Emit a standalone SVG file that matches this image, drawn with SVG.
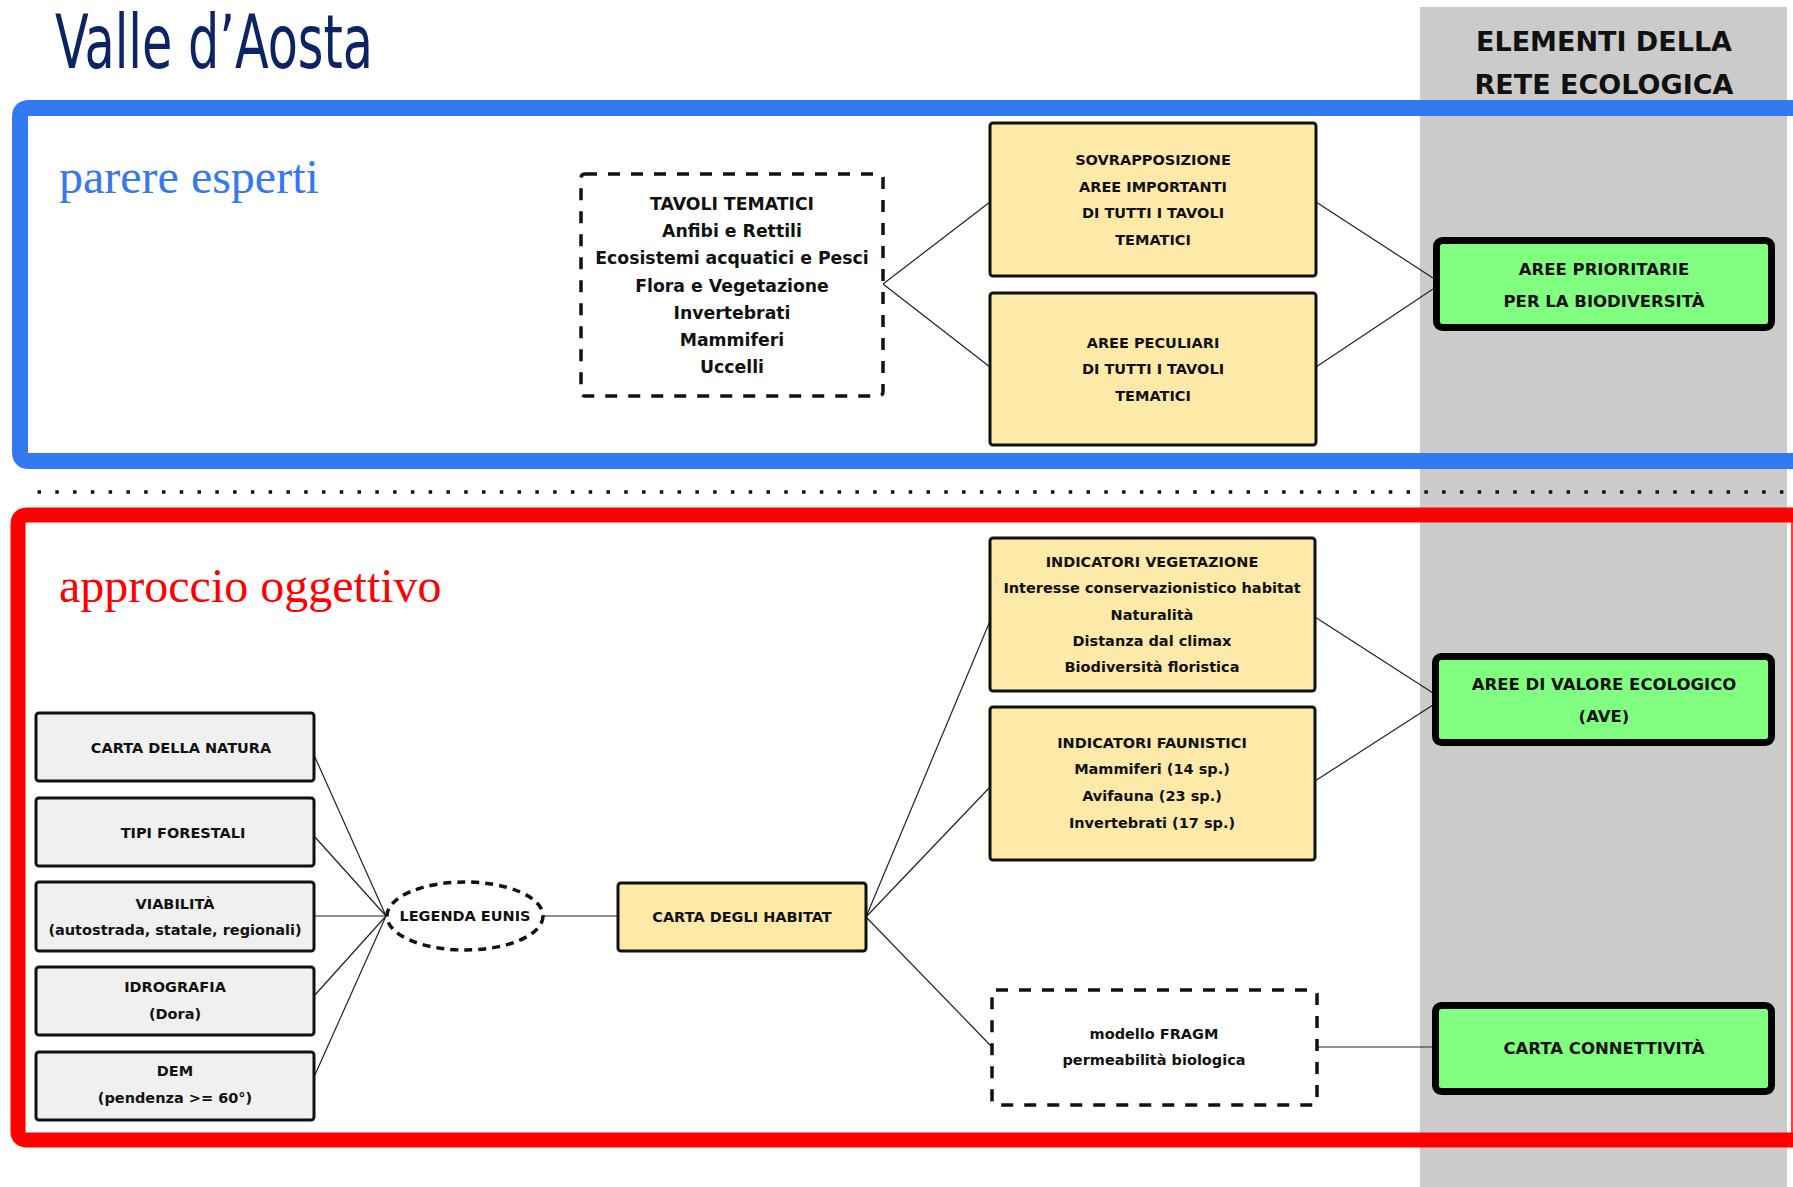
<svg xmlns="http://www.w3.org/2000/svg" width="1793" height="1187" viewBox="0 0 1793 1187">
<style>
.t{font-family:"DejaVu Sans",Verdana,sans-serif;font-weight:bold;font-size:14.5px;text-anchor:middle;dominant-baseline:central;fill:#111}
.big{font-size:17.3px}
.gt{font-size:16.5px}
.yel{fill:#fde9a8;stroke:#111;stroke-width:3}
.gry{fill:#f0f0f0;stroke:#111;stroke-width:3}
.grn{fill:#80ff80;stroke:#000;stroke-width:7}
.dash{fill:#fff;stroke:#111;stroke-width:3.5;stroke-dasharray:12 11}
.edash{fill:#fff;stroke:#111;stroke-width:3.5;stroke-dasharray:8 6}
#connectors line{stroke:#222;stroke-width:1.2}
.serif{font-family:"Liberation Serif","Times New Roman",serif;font-size:48px}
</style>
<rect x="0" y="0" width="1793" height="1187" fill="#fff"/>
<rect x="1420" y="7" width="367" height="1180" fill="#cbcbcb"/>

<g id="header">
<text x="55" y="68" font-family="'Liberation Sans Narrow','DejaVu Sans Condensed','Liberation Sans',sans-serif" font-size="74" fill="#0c2463" textLength="318" lengthAdjust="spacingAndGlyphs">Valle d’Aosta</text>
<text x="1604" y="51" font-family="'DejaVu Sans',sans-serif" font-weight="bold" font-size="27" text-anchor="middle" fill="#111">ELEMENTI DELLA</text>
<text x="1604" y="94" font-family="'DejaVu Sans',sans-serif" font-weight="bold" font-size="27" text-anchor="middle" fill="#111">RETE ECOLOGICA</text>
</g>

<g id="frames">
<path d="M1793,108 H29 Q20,108 20,117 V452 Q20,461 29,461 H1793" fill="none" stroke="#337af0" stroke-width="16"/>
<line x1="37.5" y1="492" x2="1793" y2="492" stroke="#111" stroke-width="3.5" stroke-dasharray="3.5 14.28"/>
<path d="M1793,515 H27 Q18,515 18,524 V1131 Q18,1140 27,1140 H1793" fill="none" stroke="#ff0000" stroke-width="15"/>
<line x1="1792" y1="508" x2="1792" y2="1147" stroke="#ff0000" stroke-width="1.5"/>
<text class="serif" x="59" y="193" fill="#3479f0">parere esperti</text>
<text class="serif" x="59" y="602" fill="#ff0000">approccio oggettivo</text>
</g>

<g id="connectors">
<line x1="883" y1="284" x2="990" y2="202"/>
<line x1="883" y1="284" x2="990" y2="367"/>
<line x1="1316" y1="202" x2="1433" y2="278"/>
<line x1="1316" y1="367" x2="1433" y2="289"/>
<line x1="314" y1="755" x2="386" y2="916"/>
<line x1="314" y1="836" x2="386" y2="916"/>
<line x1="314" y1="916" x2="386" y2="916"/>
<line x1="314" y1="996" x2="386" y2="916"/>
<line x1="314" y1="1077" x2="386" y2="916"/>
<line x1="543" y1="916" x2="618" y2="916"/>
<line x1="866" y1="917" x2="990" y2="621"/>
<line x1="866" y1="917" x2="990" y2="787"/>
<line x1="866" y1="917" x2="992" y2="1047"/>
<line x1="1315" y1="617" x2="1433" y2="693"/>
<line x1="1315" y1="781" x2="1433" y2="705"/>
<line x1="1317" y1="1047" x2="1432" y2="1047"/>
</g>

<g id="tavoli">
<rect class="dash" x="581" y="174" width="302" height="222" rx="4"/>
<text class="t big" x="732" y="204">TAVOLI TEMATICI</text>
<text class="t big" x="732" y="231">Anfibi e Rettili</text>
<text class="t big" x="732" y="258">Ecosistemi acquatici e Pesci</text>
<text class="t big" x="732" y="286">Flora e Vegetazione</text>
<text class="t big" x="732" y="313">Invertebrati</text>
<text class="t big" x="732" y="340">Mammiferi</text>
<text class="t big" x="732" y="367">Uccelli</text>
</g>

<g id="sovrapposizione">
<rect class="yel" x="990" y="123" width="326" height="153" rx="3"/>
<text class="t" x="1153" y="160">SOVRAPPOSIZIONE</text>
<text class="t" x="1153" y="187">AREE IMPORTANTI</text>
<text class="t" x="1153" y="213">DI TUTTI I TAVOLI</text>
<text class="t" x="1153" y="240">TEMATICI</text>
</g>

<g id="aree-peculiari">
<rect class="yel" x="990" y="293" width="326" height="152" rx="3"/>
<text class="t" x="1153" y="343">AREE PECULIARI</text>
<text class="t" x="1153" y="369">DI TUTTI I TAVOLI</text>
<text class="t" x="1153" y="396">TEMATICI</text>
</g>

<g id="aree-prioritarie">
<rect class="grn" x="1436.5" y="240.5" width="335" height="87" rx="6"/>
<text class="t gt" x="1604" y="269">AREE PRIORITARIE</text>
<text class="t gt" x="1604" y="301">PER LA BIODIVERSITÀ</text>
</g>

<g id="indicatori-vegetazione">
<rect class="yel" x="990" y="538" width="325" height="153" rx="3"/>
<text class="t" x="1152" y="562">INDICATORI VEGETAZIONE</text>
<text class="t" x="1152" y="588">Interesse conservazionistico habitat</text>
<text class="t" x="1152" y="615">Naturalità</text>
<text class="t" x="1152" y="641">Distanza dal climax</text>
<text class="t" x="1152" y="667">Biodiversità floristica</text>
</g>

<g id="indicatori-faunistici">
<rect class="yel" x="990" y="707" width="325" height="153" rx="3"/>
<text class="t" x="1152" y="743">INDICATORI FAUNISTICI</text>
<text class="t" x="1152" y="769">Mammiferi (14 sp.)</text>
<text class="t" x="1152" y="796">Avifauna (23 sp.)</text>
<text class="t" x="1152" y="823">Invertebrati (17 sp.)</text>
</g>

<g id="ave">
<rect class="grn" x="1435.5" y="656.5" width="336" height="86" rx="6"/>
<text class="t gt" x="1604" y="684">AREE DI VALORE ECOLOGICO</text>
<text class="t gt" x="1604" y="716">(AVE)</text>
</g>

<g id="carta-connettivita">
<rect class="grn" x="1435.5" y="1005.5" width="336" height="86" rx="6"/>
<text class="t gt" x="1604" y="1048">CARTA CONNETTIVITÀ</text>
</g>

<g id="fragm">
<rect class="dash" x="992" y="990" width="325" height="115" rx="4"/>
<text class="t" x="1154" y="1034">modello FRAGM</text>
<text class="t" x="1154" y="1060">permeabilità biologica</text>
</g>

<g id="carta-habitat">
<rect class="yel" x="618" y="883" width="248" height="68" rx="3"/>
<text class="t" x="742" y="917">CARTA DEGLI HABITAT</text>
</g>

<g id="legenda-eunis">
<ellipse class="edash" cx="465" cy="916" rx="78" ry="34"/>
<text class="t" x="465" y="916">LEGENDA EUNIS</text>
</g>

<g id="carta-natura">
<rect class="gry" x="36" y="713" width="278" height="68" rx="3"/>
<text class="t" x="181" y="748">CARTA DELLA NATURA</text>
</g>

<g id="tipi-forestali">
<rect class="gry" x="36" y="798" width="278" height="68" rx="3"/>
<text class="t" x="183" y="833">TIPI FORESTALI</text>
</g>

<g id="viabilita">
<rect class="gry" x="36" y="882" width="278" height="69" rx="3"/>
<text class="t" x="175" y="904">VIABILITÀ</text>
<text class="t" x="175" y="930">(autostrada, statale, regionali)</text>
</g>

<g id="idrografia">
<rect class="gry" x="36" y="967" width="278" height="68" rx="3"/>
<text class="t" x="175" y="987">IDROGRAFIA</text>
<text class="t" x="175" y="1014">(Dora)</text>
</g>

<g id="dem">
<rect class="gry" x="36" y="1052" width="278" height="68" rx="3"/>
<text class="t" x="175" y="1071">DEM</text>
<text class="t" x="175" y="1098">(pendenza &gt;= 60°)</text>
</g>
</svg>
